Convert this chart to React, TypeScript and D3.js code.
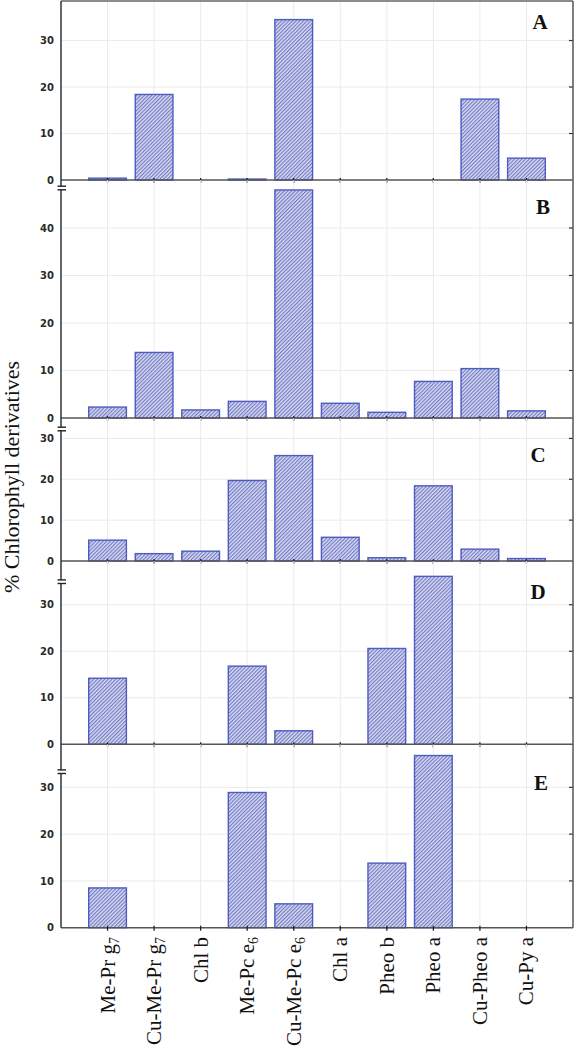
import React from "react";
import * as d3 from "d3";

const categories = [
  "Me-Pr g_7",
  "Cu-Me-Pr g_7",
  "Chl b",
  "Me-Pc e_6",
  "Cu-Me-Pc e_6",
  "Chl a",
  "Pheo b",
  "Pheo a",
  "Cu-Pheo a",
  "Cu-Py a",
];
const panelLetters = ["A", "B", "C", "D", "E"];
const valuesA = [0.4, 18.4, 0, 0.2, 34.5, 0, 0, 0, 17.4, 4.7];
const valuesB = [2.3, 13.8, 1.7, 3.5, 48.0, 3.1, 1.2, 7.7, 10.4, 1.5];
const valuesC = [5.1, 1.8, 2.4, 19.7, 25.8, 5.8, 0.8, 18.4, 2.9, 0.6];
const valuesD = [14.2, 0, 0, 16.8, 2.9, 0, 20.6, 36.1, 0, 0];
const valuesE = [8.5, 0, 0, 28.9, 5.1, 0, 13.8, 36.8, 0, 0];
const panelValues = [valuesA, valuesB, valuesC, valuesD, valuesE];
const yTicksA = [0, 10, 20, 30];
const yTicksB = [0, 10, 20, 30, 40];
const yTicksC = [0, 10, 20, 30];
const yTicksD = [0, 10, 20, 30];
const yTicksE = [0, 10, 20, 30];
const panelTicks = [yTicksA, yTicksB, yTicksC, yTicksD, yTicksE];
const yMax = [38.5, 50.1, 35, 39.4, 39.2];
const yLabel = "% Chlorophyll derivatives";

// layout (pixels)
const W = 575;
const H = 1050;
const left = 61;
const right = 573;
const panelTops = [1, 180, 418, 561, 744.3];
const panelBottoms = [180, 418, 561, 744.3, 927.7];
const breakOffsets = [null, 8, 11, 20.7, 27.4];
const letterPos = [
  [540, 29],
  [543, 214],
  [538, 462],
  [538, 599],
  [541, 790],
];

const BLUE = "#4d5cc0";
const SERIF = "'Liberation Serif', 'Times New Roman', Times, serif";

export default function App() {
  const x = d3.scalePoint<string>().domain(categories).range([left, right]).padding(1);
  const step = x.step();
  const bw = step * 0.81;

  return (
    <div style={{ position: "absolute", left: 0, top: 0 }}>
      <svg width={W} height={H} style={{ display: "block", background: "#fff" }}>
        <defs>
          <pattern id="hatch" width={2.6} height={2.6} patternUnits="userSpaceOnUse" patternTransform="rotate(45)">
            <rect width={2.6} height={2.6} fill="#d8daf1" />
            <line x1={0.6} y1={0} x2={0.6} y2={2.6} stroke="#646dbd" strokeWidth={1.0} />
          </pattern>
        </defs>

        {panelValues.map((vals, p) => {
          const top = panelTops[p];
          const bottom = panelBottoms[p];
          const y = d3.scaleLinear().domain([0, yMax[p]]).range([bottom, top]);
          const ticks = panelTicks[p];
          return (
            <g key={p}>
              {categories.map((c) => (
                <line key={"vg" + c} x1={x(c)} x2={x(c)} y1={top} y2={bottom} stroke="#ebebeb" strokeWidth={1} />
              ))}
              {ticks.filter((t) => t > 0).map((t) => (
                <line key={"hg" + t} x1={left} x2={right} y1={y(t)} y2={y(t)} stroke="#ebebeb" strokeWidth={1} />
              ))}
              {vals.map((v, i) =>
                v > 0 ? (
                  <rect
                    key={"b" + i}
                    x={(x(categories[i]) as number) - bw / 2}
                    y={y(v)}
                    width={bw}
                    height={Math.max(0.8, y(0) - y(v))}
                    fill="url(#hatch)"
                    stroke={BLUE}
                    strokeWidth={1.4}
                  />
                ) : null
              )}
              <line x1={left} x2={right} y1={bottom} y2={bottom} stroke="#555" strokeWidth={1.5} />
              {categories.map((c) => (
                <line key={"xt" + c} x1={x(c)} x2={x(c)} y1={bottom - 2} y2={bottom + 3} stroke="#222" strokeWidth={1.3} />
              ))}
              {ticks.filter((t) => t > 0).map((t) => (
                <line key={"rt" + t} x1={right - 4} x2={right} y1={y(t)} y2={y(t)} stroke="#333" strokeWidth={1.2} />
              ))}
              {ticks.map((t) => (
                <text
                  key={"yl" + t}
                  x={54}
                  y={y(t)}
                  dy="0.36em"
                  textAnchor="end"
                  fontFamily="'DejaVu Sans', Arial, sans-serif"
                  fontWeight="bold"
                  fontSize={10}
                  fill="#2a2a2a"
                >
                  {t}
                </text>
              ))}
              <text
                x={letterPos[p][0]}
                y={letterPos[p][1]}
                textAnchor="middle"
                fontFamily={SERIF}
                fontWeight="bold"
                fontSize={21}
                fill="#111"
              >
                {panelLetters[p]}
              </text>
            </g>
          );
        })}

        <line x1={left} x2={right} y1={panelTops[0]} y2={panelTops[0]} stroke="#666" strokeWidth={1.5} />
        <line x1={left} x2={left} y1={panelTops[0]} y2={panelBottoms[4]} stroke="#333" strokeWidth={1.5} />
        <line x1={right} x2={right} y1={panelTops[0]} y2={panelBottoms[4]} stroke="#555" strokeWidth={1.5} />

        {breakOffsets.map((o, p) =>
          o == null ? null : (
            <g key={"br" + p}>
              <rect x={57} y={panelTops[p] + o - 1.6} width={10} height={3.2} fill="#fff" />
              <line x1={57.5} x2={66} y1={panelTops[p] + o - 1.8} y2={panelTops[p] + o - 1.8} stroke="#222" strokeWidth={1.4} />
              <line x1={57.5} x2={66} y1={panelTops[p] + o + 1.8} y2={panelTops[p] + o + 1.8} stroke="#222" strokeWidth={1.4} />
            </g>
          )
        )}

        {categories.map((c) => {
          const [base, sub] = c.split("_");
          return (
            <text
              key={"xl" + c}
              transform={`translate(${(x(c) as number) + 7},937) rotate(-90)`}
              textAnchor="end"
              fontFamily={SERIF}
              fontSize={21}
              fill="#111"
            >
              {base}
              {sub ? (
                <tspan fontSize={14} dy={4}>
                  {sub}
                </tspan>
              ) : null}
            </text>
          );
        })}

        <text
          transform="translate(19,477) rotate(-90)"
          textAnchor="middle"
          fontFamily={SERIF}
          fontSize={22}
          fill="#111"
        >
          {yLabel}
        </text>
      </svg>
    </div>
  );
}
